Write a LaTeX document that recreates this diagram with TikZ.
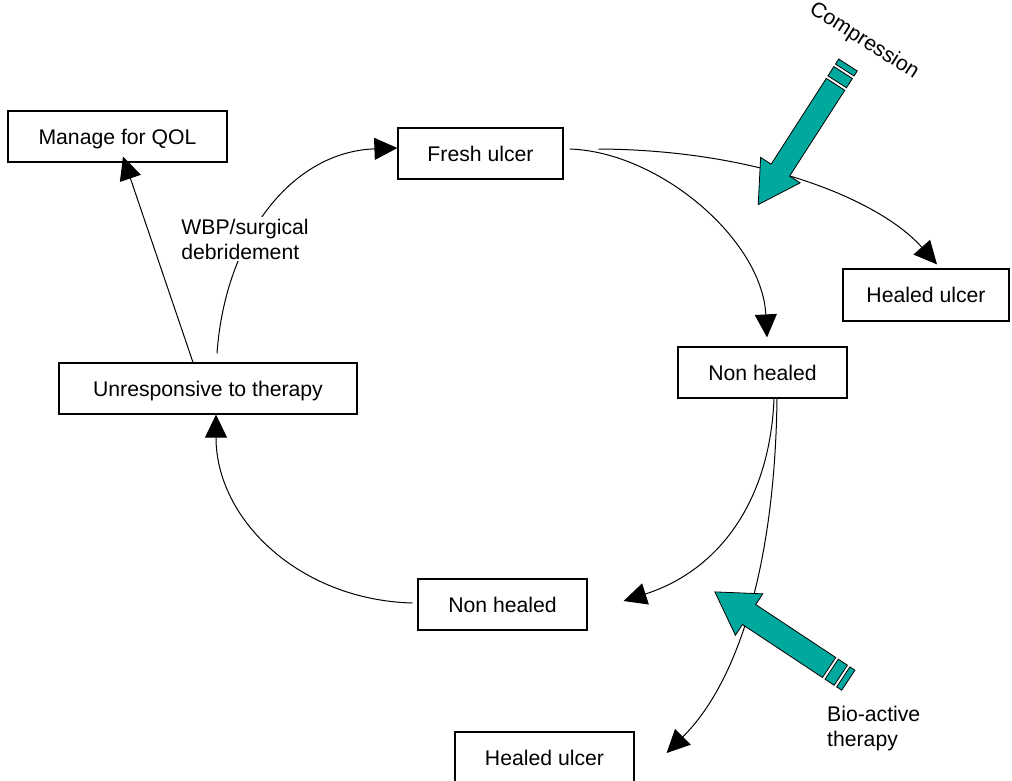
\documentclass[tikz,border=0pt]{standalone}
\usepackage{fontspec}
\setmainfont{Liberation Sans}
\usetikzlibrary{arrows.meta,calc}
\definecolor{tealfill}{RGB}{0,168,158}
\begin{document}
\begin{tikzpicture}[x=1pt,y=-1pt,
  box/.style={draw,line width=1.2pt,rectangle,inner sep=0pt,text height=15.2pt,text depth=0pt,font=\fontsize{21.2}{25}\selectfont},
  conn/.style={line width=1pt,-{Triangle[length=23pt,width=22pt]}},
  lbl/.style={font=\fontsize{21.2}{25}\selectfont,align=left,inner sep=0pt},
  tealarrow/.style={fill=tealfill,draw=black,line width=0.8pt}]
\useasboundingbox (0,0) rectangle (1012,781);
% boxes
\node[box,minimum width=219pt,minimum height=51pt] (qol) at (117.5,136.5) {Manage for QOL};
\node[box,minimum width=165pt,minimum height=51pt] (fresh) at (480.5,153.5) {Fresh ulcer};
\node[box,minimum width=166pt,minimum height=52pt] (healedR) at (926,295) {Healed ulcer};
\node[box,minimum width=169pt,minimum height=51pt] (nhR) at (762.5,372.5) {Non healed};
\node[box,minimum width=298pt,minimum height=51pt] (unresp) at (208,388.5) {Unresponsive to therapy};
\node[box,minimum width=169pt,minimum height=51pt] (nhB) at (502.5,604.5) {Non healed};
\node[box,minimum width=179pt,minimum height=51pt] (healedB) at (544.5,757.5) {Healed ulcer};
% connectors
\draw[conn] ([xshift=-15pt]unresp.north) -- ([xshift=5.5pt,yshift=6pt]qol.south);
\draw[conn] ([xshift=9pt,yshift=9pt]unresp.north) .. controls (225,240) and (290,152) .. ([yshift=5.5pt]fresh.west);
\node[lbl,fill=white,inner sep=2pt] (wbp) at (245,239) {WBP/surgical\\debridement};
\draw[conn] ([xshift=6pt,yshift=4.5pt]fresh.east) .. controls (660,152) and (762,240) .. ([xshift=4.5pt,yshift=9pt]nhR.north);
\draw[conn] ([xshift=35pt,yshift=4.5pt]fresh.east) .. controls (760,150) and (880,200) .. ([xshift=11pt,yshift=4pt]healedR.north);
\draw[conn] ([xshift=11.5pt]nhR.south) .. controls (770,500) and (720,570) .. ([xshift=36pt,yshift=3.5pt]nhB.east);
\draw[conn] ([xshift=14.5pt]nhR.south) .. controls (775,560) and (740,680) .. ([xshift=32pt,yshift=4.5pt]healedB.east);
\draw[conn] ([xshift=-5pt,yshift=1.5pt]nhB.west) .. controls (300,600) and (216,520) .. ([xshift=8pt]unresp.south);
% teal block arrows
\begin{scope}[shift={(848,65)},rotate=-122.75]
  \filldraw[tealarrow] (0,-11) rectangle (6,11);
  \filldraw[tealarrow] (9,-11) rectangle (20,11);
  \filldraw[tealarrow] (23,-11) -- (125,-11) -- (125,-23.5) -- (166,0) -- (125,23.5) -- (125,11) -- (23,11) -- cycle;
\end{scope}
\begin{scope}[shift={(848.3,680.2)},rotate=146.5]
  \filldraw[tealarrow] (0,-12) rectangle (6,12);
  \filldraw[tealarrow] (9,-12) rectangle (20,12);
  \filldraw[tealarrow] (23,-12) -- (119,-12) -- (119,-24.8) -- (160,0) -- (119,24.8) -- (119,12) -- (23,12) -- cycle;
\end{scope}
% labels
\node[lbl,rotate=-32.5] (comp) at (864,41) {Compression};
\node[lbl,anchor=north west] (bio) at (827,706) {Bio-active\\therapy};
\end{tikzpicture}
\end{document}
